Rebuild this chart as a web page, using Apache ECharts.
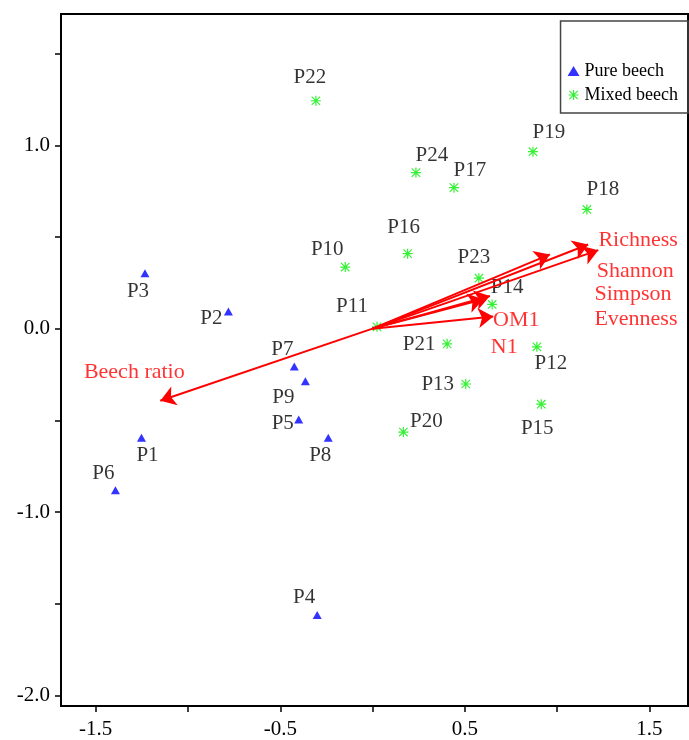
<!DOCTYPE html>
<html>
<head>
<meta charset="utf-8">
<title>Biplot</title>
<script src="https://cdn.jsdelivr.net/npm/echarts@6/dist/echarts.min.js"></script>
<style>
  html, body { margin: 0; padding: 0; background: #fff; }
</style>
</head>
<body>
<div id="main" style="width:689px;height:740px;"></div>
<script type="text/javascript">
// plots (site scores)
var pureNames = ['P1', 'P2', 'P3', 'P4', 'P5', 'P6', 'P7', 'P8', 'P9'];
var pureX = [-1.252, -0.781, -1.233, -0.300, -0.400, -1.393, -0.424, -0.240, -0.364];
var pureY = [-0.595, 0.094, 0.302, -1.562, -0.496, -0.882, -0.206, -0.595, -0.287];

var mixedNames = ['P10', 'P11', 'P12', 'P13', 'P14', 'P15', 'P16', 'P17', 'P18', 'P19', 'P20', 'P21', 'P22', 'P23', 'P24'];
var mixedX = [-0.148, 0.024, 0.890, 0.505, 0.648, 0.914, 0.190, 0.441, 1.161, 0.869, 0.167, 0.404, -0.307, 0.576, 0.235];
var mixedY = [0.336, 0.010, -0.099, -0.302, 0.132, -0.412, 0.409, 0.769, 0.650, 0.965, -0.564, -0.083, 1.243, 0.275, 0.851];

// environmental vectors (arrow tips, drawn from the origin)
var vecNames = ['Richness', 'Shannon', 'Simpson', 'Evenness', 'N1', 'OM1', 'Beech ratio'];
var vecX = [1.168, 1.223, 0.961, 0.636, 0.600, 0.654, -1.150];
var vecY = [0.459, 0.428, 0.405, 0.178, 0.160, 0.066, -0.393];

// axis ticks
var xTicks = [-1.5, -1, -0.5, 0, 0.5, 1, 1.5];
var xTickLabels = [-1.5, -0.5, 0.5, 1.5];
var yTicks = [1.5, 1, 0.5, 0, -0.5, -1, -1.5, -2];
var yTickLabels = [1, 0, -1, -2];

// label placement (pixel offset of label centre from the mark)
var labelOffset = {
    P1: [6, 18], P2: [-17, 7], P3: [-7, 18], P4: [-13, -18], P5: [-16, 4],
    P6: [-12, -17], P7: [-12, -17], P8: [-8, 18], P9: [-22, 16],
    P10: [-18, -18], P11: [-25, -20], P12: [14, 17], P13: [-28, 0], P14: [15, -17],
    P15: [-4, 24], P16: [-4, -26], P17: [16, -17], P18: [16, -20], P19: [16, -19],
    P20: [23, -11], P21: [-28, 1], P22: [-6, -23], P23: [-5, -21], P24: [16, -17],
    'Richness': [50, -4], 'Shannon': [37, 21], 'Simpson': [83, 40], 'Evenness': [146, 23],
    'N1': [21, 48], 'OM1': [23, 4], 'Beech ratio': [-26, -28]
};

var FONT = "'Liberation Serif', 'Times New Roman', serif";
var ASTERISK = 'path://M4.4 0H5.6V10H4.4Z M0 4.4H10V5.6H0Z M1.2 0.4L9.6 8.8L8.8 9.6L0.4 1.2Z M8.8 0.4L9.6 1.2L1.2 9.6L0.4 8.8Z';

var makePoints = function (names, xs, ys) {
    var out = [];
    for (var i = 0; i < names.length; i++) {
        out.push({
            name: names[i],
            value: [xs[i], ys[i]],
            label: { offset: labelOffset[names[i]] || [0, -20] }
        });
    }
    return out;
};

var arrowData = [];
for (var i = 0; i < vecNames.length; i++) {
    arrowData.push({ name: vecNames[i], coords: [[0, 0], [vecX[i], vecY[i]]] });
}

var myChart = echarts.init(document.getElementById('main'));

var option = {
    animation: false,
    backgroundColor: '#fff',
    grid: {
        left: 61, right: 1, top: 14, bottom: 32,
        show: true, borderColor: '#000', borderWidth: 2, containLabel: false
    },
    legend: {
        orient: 'vertical',
        right: 1,
        top: 21,
        padding: [41, 10, 9, 7],
        itemWidth: 12,
        itemHeight: 10,
        itemGap: 6,
        borderColor: '#444',
        borderWidth: 1.5,
        textStyle: { fontFamily: FONT, fontSize: 18, color: '#000', lineHeight: 17 },
        data: ['Pure beech', 'Mixed beech']
    },
    xAxis: {
        type: 'value',
        min: -1.688,
        max: 1.709,
        splitLine: { show: false },
        axisLine: { onZero: false, lineStyle: { color: '#000', width: 2 } },
        axisTick: { customValues: xTicks, length: 6, lineStyle: { color: '#000', width: 1.5 } },
        axisLabel: {
            customValues: xTickLabels,
            margin: 13,
            fontFamily: FONT, fontSize: 21, color: '#000',
            formatter: function (v) { return v.toFixed(1); }
        }
    },
    yAxis: {
        type: 'value',
        min: -2.058,
        max: 1.716,
        splitLine: { show: false },
        axisLine: { onZero: false, lineStyle: { color: '#000', width: 2 } },
        axisTick: { customValues: yTicks, length: 6, lineStyle: { color: '#000', width: 1.5 } },
        axisLabel: {
            customValues: yTickLabels,
            margin: 11,
            fontFamily: FONT, fontSize: 21, color: '#000',
            formatter: function (v) { return v.toFixed(1); }
        }
    },
    series: [
        {
            name: 'Pure beech',
            type: 'scatter',
            symbol: 'triangle',
            symbolSize: [9, 8],
            itemStyle: { color: '#0000ff' },
            label: { show: true, position: 'inside', formatter: '{b}', fontFamily: FONT, fontSize: 21, color: '#000' },
            data: makePoints(pureNames, pureX, pureY),
            z: 3
        },
        {
            name: 'Mixed beech',
            type: 'scatter',
            symbol: ASTERISK,
            symbolSize: 10,
            itemStyle: { color: '#00ee00' },
            label: { show: true, position: 'inside', formatter: '{b}', fontFamily: FONT, fontSize: 21, color: '#000' },
            data: makePoints(mixedNames, mixedX, mixedY),
            z: 3
        },
        {
            name: 'vectors',
            type: 'lines',
            coordinateSystem: 'cartesian2d',
            symbol: ['none', 'arrow'],
            symbolSize: 15,
            lineStyle: { color: '#ff0000', width: 2, opacity: 1, curveness: 0 },
            data: arrowData,
            z: 5
        },
        {
            name: 'vector labels',
            type: 'scatter',
            symbolSize: 0,
            silent: true,
            label: { show: true, position: 'inside', formatter: '{b}', fontFamily: FONT, fontSize: 22, color: '#ff0000' },
            data: makePoints(vecNames, vecX, vecY),
            z: 6
        }
    ]
};

myChart.setOption(option);
</script>
</body>
</html>
